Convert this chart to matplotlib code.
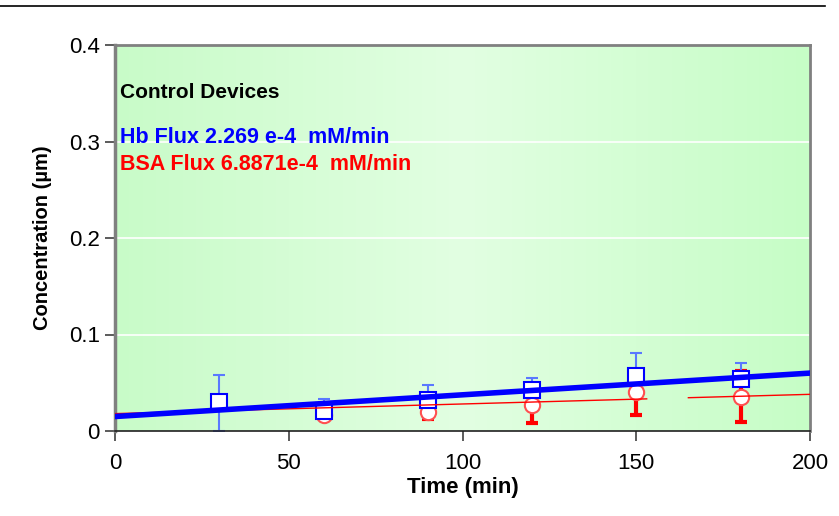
import numpy as np
import matplotlib
matplotlib.use("Agg")
import matplotlib.pyplot as plt
from matplotlib.colors import LinearSegmentedColormap

# datos
tiempo = [30, 60, 90, 120, 150, 180]
hb = [0.030, 0.021, 0.032, 0.042, 0.0575, 0.054]
hb_err_arriba = [0.028, 0.012, 0.016, 0.013, 0.0235, 0.016]
hb_err_abajo = [0.030, 0.0, 0.019, 0.0, 0.0, 0.0]
bsa = [0.0, 0.017, 0.020, 0.027, 0.040, 0.035]
bsa_err_abajo = [0.0, 0.0, 0.008, 0.019, 0.023, 0.026]
bsa_err_arriba = [0.0, 0.0, 0.0, 0.0, 0.0, 0.027]

# lineas de tendencia (extremos leidos)
tend_x = [0, 200]
hb_tend = [0.015, 0.060]
bsa_tend_x = [0, 153, np.nan, 165, 200]
bsa_tend = [0.018, 0.0333, np.nan, 0.0345, 0.038]

xticks = [0, 50, 100, 150, 200]
yticks = [0, 0.1, 0.2, 0.3, 0.4]
ytick_labels = ["0", "0.1", "0.2", "0.3", "0.4"]

fuente = ["Liberation Sans", "DejaVu Sans"]

fig = plt.figure(figsize=(8.39, 5.16), dpi=100)
ax = fig.add_axes([115 / 839, 1 - 431 / 516, 695 / 839, 386 / 516])

# fondo degradado verde
cmap = LinearSegmentedColormap.from_list("fondo", ["#c8fbc8", "#e2ffe2", "#c6fdc6"])
grad = np.linspace(0, 1, 256).reshape(1, -1)
ax.imshow(grad, aspect="auto", cmap=cmap, extent=[0, 200, 0, 0.4], zorder=0)

for y in [0.1, 0.2, 0.3]:
    ax.axhline(y, color="white", lw=1.2, zorder=1)

# barras de error
ax.errorbar(tiempo[1:], bsa[1:], yerr=[bsa_err_abajo[1:], bsa_err_arriba[1:]], fmt="none",
            ecolor="red", elinewidth=3, capsize=4, capthick=3, zorder=2)
ax.errorbar(tiempo, hb, yerr=[hb_err_abajo, hb_err_arriba], fmt="none",
            ecolor="#5a78ff", elinewidth=1.5, capsize=4, capthick=1.5, zorder=2)

# marcadores
ax.plot(tiempo[1:], bsa[1:], "o", ms=11, mfc="white", mec="#ff5050", mew=1.5, zorder=3)
ax.plot(tiempo, hb, "s", ms=11, mfc="white", mec="blue", mew=1.5, zorder=3)

# tendencias
ax.plot(bsa_tend_x, bsa_tend, color="red", lw=1, zorder=4)
ax.plot(tend_x, hb_tend, color="blue", lw=4, zorder=5)

ax.set_xlim(0, 200)
ax.set_ylim(0, 0.4)
ax.set_xticks(xticks)
ax.set_yticks(yticks)
ax.set_yticklabels(ytick_labels)
for lab in ax.get_xticklabels() + ax.get_yticklabels():
    lab.set_family(fuente)
    lab.set_fontsize(16)
ax.tick_params(direction="out", length=7, width=1.2, color="#404040", pad=4)
ax.tick_params(axis="x", pad=9)

for s in ["top", "right"]:
    ax.spines[s].set_color("#808080")
    ax.spines[s].set_linewidth(2)
ax.spines["left"].set_color("#808080")
ax.spines["left"].set_linewidth(2.5)
ax.spines["bottom"].set_color("#202020")
ax.spines["bottom"].set_linewidth(1.2)

ax.set_xlabel("Time (min)", family=fuente, fontsize=16, fontweight="bold", labelpad=2)
ax.set_ylabel("Concentration (µm)", family=fuente, fontsize=14.5, fontweight="bold", labelpad=12)

ax.text(1.5, 0.345, "Control Devices", family=fuente, fontsize=15, color="black", fontweight="bold")
ax.text(1.5, 0.298, "Hb Flux 2.269 e-4  mM/min", family=fuente, fontsize=15.5, color="blue", fontweight="bold")
ax.text(1.5, 0.270, "BSA Flux 6.8871e-4  mM/min", family=fuente, fontsize=15.5, color="red", fontweight="bold")

# linea superior
fig.add_artist(plt.Line2D([0, 825 / 839], [1 - 6 / 516, 1 - 6 / 516], color="black", lw=1.2))

fig.savefig("out.png", dpi=100)
